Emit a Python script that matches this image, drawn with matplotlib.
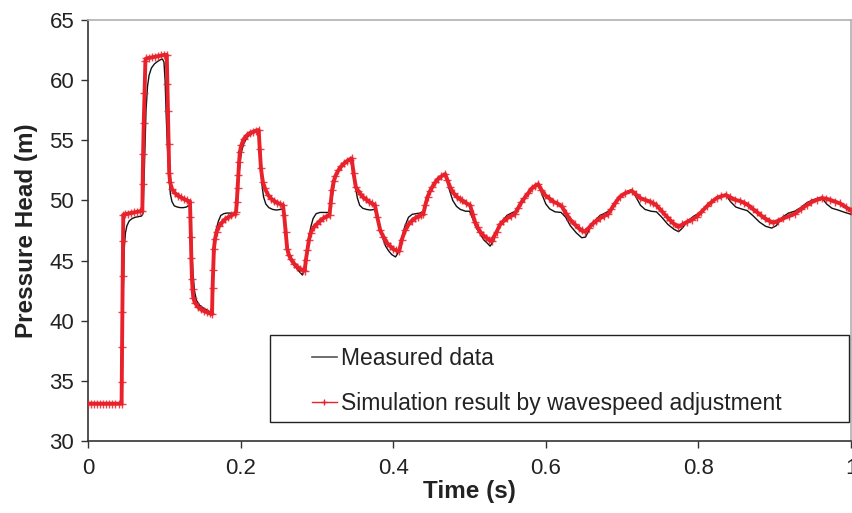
import matplotlib
matplotlib.use("Agg")
import matplotlib.pyplot as plt
from matplotlib.lines import Line2D
from matplotlib.patches import Rectangle

# Measured pressure head at the valve (m) against time (s)
t_meas = [
    0.000, 0.020, 0.044, 0.0450, 0.0460, 0.0475, 0.0490, 0.0510, 0.0540, 0.0580,
    0.0620, 0.0660, 0.0700, 0.0720, 0.0740, 0.0760, 0.0780, 0.0800, 0.0830, 0.0870,
    0.0910, 0.0950, 0.0975, 0.0995, 0.1010, 0.1025, 0.1040, 0.1060, 0.1080, 0.1100,
    0.1130, 0.1170, 0.1210, 0.1250, 0.1290, 0.1310, 0.1330, 0.1345, 0.1360, 0.1375,
    0.1395, 0.1420, 0.1460, 0.1500, 0.1540, 0.1580, 0.1610, 0.1630, 0.1645, 0.1660,
    0.1680, 0.1710, 0.1740, 0.1780, 0.1820, 0.1860, 0.1900, 0.1930, 0.1950, 0.1970,
    0.1990, 0.2010, 0.2040, 0.2080, 0.2120, 0.2160, 0.2200, 0.2230, 0.2245, 0.2260,
    0.2280, 0.2300, 0.2330, 0.2370, 0.2420, 0.2470, 0.2520, 0.2550, 0.2570, 0.2590,
    0.2620, 0.2660, 0.2700, 0.2740, 0.2780, 0.2810, 0.2830, 0.2860, 0.2890, 0.2920,
    0.2950, 0.2990, 0.3040, 0.3100, 0.3150, 0.3180, 0.3200, 0.3230, 0.3270, 0.3310,
    0.3360, 0.3410, 0.3450, 0.3475, 0.3500, 0.3530, 0.3560, 0.3600, 0.3650, 0.3700,
    0.3750, 0.3780, 0.3820, 0.3860, 0.3900, 0.3940, 0.3980, 0.4030, 0.4060, 0.4100,
    0.4150, 0.4200, 0.4250, 0.4300, 0.4350, 0.4400, 0.4450, 0.4500, 0.4550, 0.4600,
    0.4660, 0.4690, 0.4730, 0.4780, 0.4830, 0.4880, 0.4950, 0.5000, 0.5040, 0.5090,
    0.5140, 0.5190, 0.5240, 0.5270, 0.5310, 0.5370, 0.5430, 0.5490, 0.5550, 0.5600,
    0.5650, 0.5720, 0.5790, 0.5860, 0.5900, 0.5950, 0.6000, 0.6050, 0.6120, 0.6200,
    0.6260, 0.6320, 0.6400, 0.6470, 0.6520, 0.6570, 0.6640, 0.6710, 0.6780, 0.6840,
    0.6920, 0.7000, 0.7080, 0.7125, 0.7180, 0.7240, 0.7300, 0.7380, 0.7450, 0.7520,
    0.7600, 0.7680, 0.7740, 0.7790, 0.7860, 0.7940, 0.8010, 0.8080, 0.8160, 0.8240,
    0.8310, 0.8360, 0.8420, 0.8490, 0.8560, 0.8640, 0.8720, 0.8800, 0.8880, 0.8960,
    0.9020, 0.9100, 0.9180, 0.9260, 0.9340, 0.9420, 0.9500, 0.9580, 0.9620, 0.9680,
    0.9750, 0.9830, 0.9920, 1.0000,
]
p_meas = [
    33.1, 33.1, 33.1, 36.0, 42.0, 46.0, 47.3, 47.9, 48.3, 48.5,
    48.6, 48.65, 48.7, 48.9, 53.0, 57.5, 59.5, 60.4, 61.0, 61.35,
    61.55, 61.7, 61.75, 61.5, 60.0, 57.0, 54.5, 52.0, 50.5, 49.9,
    49.55, 49.45, 49.4, 49.4, 49.45, 49.55, 49.5, 48.5, 46.0, 44.0,
    42.5, 41.7, 41.3, 41.1, 40.95, 40.8, 40.7, 41.5, 44.0, 46.3,
    47.6, 48.3, 48.75, 48.9, 48.95, 48.95, 48.9, 49.0, 49.8, 51.5,
    53.0, 54.0, 54.7, 55.2, 55.45, 55.6, 55.7, 55.8, 55.0, 53.0,
    51.3, 50.3, 49.7, 49.4, 49.25, 49.2, 49.25, 49.3, 48.6, 47.3,
    46.0, 45.1, 44.6, 44.3, 44.0, 43.8, 44.2, 45.5, 46.8, 47.8,
    48.5, 48.9, 49.0, 49.0, 49.0, 49.4, 50.3, 51.5, 52.4, 52.8,
    53.15, 53.35, 53.5, 52.8, 51.3, 50.2, 49.6, 49.35, 49.25, 49.2,
    49.25, 48.9, 47.8, 46.9, 46.2, 45.8, 45.5, 45.3, 45.6, 46.6,
    47.8, 48.6, 48.85, 48.9, 48.95, 49.1, 50.2, 51.0, 51.5, 51.85,
    52.15, 52.1, 51.0, 50.0, 49.5, 49.25, 49.1, 49.1, 48.5, 47.7,
    47.2, 46.7, 46.4, 46.2, 46.6, 47.6, 48.3, 48.75, 48.95, 49.1,
    49.6, 50.3, 50.9, 51.3, 51.4, 50.5, 49.7, 49.3, 49.05, 49.0,
    48.6, 47.9, 47.3, 46.9, 46.95, 47.6, 48.3, 48.75, 48.95, 49.2,
    49.9, 50.45, 50.8, 50.85, 50.3, 49.6, 49.25, 49.1, 49.05, 48.6,
    48.0, 47.6, 47.4, 47.7, 48.3, 48.7, 48.95, 49.3, 49.8, 50.2,
    50.45, 50.45, 49.9, 49.45, 49.3, 49.15, 48.7, 48.2, 47.85, 47.7,
    47.9, 48.6, 48.95, 49.1, 49.4, 49.8, 50.05, 50.2, 50.2, 49.7,
    49.35, 49.2, 49.0, 48.85,
]

# Simulated pressure head with adjusted wave speed
t_sim = [
    0.000, 0.004, 0.008, 0.012, 0.016, 0.020, 0.024, 0.028, 0.032, 0.036,
    0.040, 0.044, 0.0442, 0.0446, 0.0450, 0.0454, 0.0458, 0.0462,
    0.048, 0.052, 0.056, 0.060, 0.064, 0.068, 0.0712,
    0.0716, 0.0722, 0.0730, 0.0740, 0.0752, 0.0760,
    0.080, 0.084, 0.088, 0.092, 0.096, 0.100, 0.1032,
    0.1040, 0.1048, 0.1056, 0.1064, 0.1076, 0.1100, 0.1140, 0.1180, 0.1220, 0.1260,
    0.1300, 0.1336,
    0.1342, 0.1348, 0.1354, 0.1362, 0.1370, 0.1380, 0.1400, 0.1440, 0.1480, 0.1520,
    0.1560, 0.1600, 0.1625,
    0.1632, 0.1640, 0.1650, 0.1665, 0.1685, 0.1720, 0.1760, 0.1800, 0.1840, 0.1880,
    0.1920, 0.1940,
    0.1950, 0.1960, 0.1970, 0.1980, 0.1990, 0.2010, 0.2040, 0.2080, 0.2120, 0.2160,
    0.2200, 0.2237,
    0.2250, 0.2266, 0.2290, 0.2318, 0.2360, 0.2400, 0.2440, 0.2480, 0.2520, 0.2555,
    0.2570, 0.2590, 0.2610, 0.2630, 0.2660, 0.2700, 0.2740, 0.2780, 0.2820, 0.2840,
    0.2855, 0.2875, 0.2895, 0.2918, 0.2960, 0.3000, 0.3040, 0.3080, 0.3120, 0.3165,
    0.3180, 0.3200, 0.3220, 0.3240, 0.3280, 0.3320, 0.3360, 0.3400, 0.3430, 0.3456,
    0.3480, 0.3510, 0.3540, 0.3570, 0.3600, 0.3640, 0.3680, 0.3720, 0.3760,
    0.3790, 0.3830, 0.3870, 0.3920, 0.3960, 0.4000, 0.4040, 0.4080,
    0.4110, 0.4155, 0.4200, 0.4240, 0.4280, 0.4320, 0.4360, 0.4395,
    0.4420, 0.4450, 0.4480, 0.4510, 0.4550, 0.4590, 0.4630, 0.4680,
    0.4710, 0.4745, 0.4790, 0.4835, 0.4870, 0.4900, 0.4950, 0.5007,
    0.5040, 0.5072, 0.5105, 0.5140, 0.5180, 0.5220, 0.5260, 0.5290,
    0.5320, 0.5356, 0.5400, 0.5440, 0.5487, 0.5540, 0.5596,
    0.5640, 0.5680, 0.5720, 0.5770, 0.5815, 0.5860, 0.5900,
    0.5940, 0.5988, 0.6040, 0.6097, 0.6150, 0.6210, 0.6260, 0.6320, 0.6380, 0.6430,
    0.6470, 0.6510,
    0.6560, 0.6620, 0.6660, 0.6705, 0.6760, 0.6820, 0.6860, 0.6905, 0.6970, 0.7040,
    0.7125,
    0.7180, 0.7235, 0.7300, 0.7366, 0.7410, 0.7450, 0.7520, 0.7585, 0.7630, 0.7670,
    0.7737,
    0.7790, 0.7846, 0.7910, 0.7977, 0.8040, 0.8108, 0.8170, 0.8239, 0.8300, 0.8360,
    0.8420, 0.8480, 0.8545, 0.8600, 0.8654, 0.8710, 0.8763, 0.8820, 0.8872, 0.8930,
    0.8980,
    0.9040, 0.9110, 0.9190, 0.9264, 0.9340, 0.9417, 0.9480, 0.9550, 0.9616, 0.9670,
    0.9725, 0.9790, 0.9856, 0.9930, 1.0000,
]
p_sim = [
    33.1, 33.1, 33.1, 33.1, 33.1, 33.1, 33.1, 33.1, 33.1, 33.1,
    33.1, 33.1, 34.9, 37.8, 40.7, 43.7, 46.6, 48.8,
    48.85, 48.9, 48.95, 49.0, 49.05, 49.1, 49.15,
    51.4, 53.9, 56.4, 58.9, 61.6, 61.8,
    61.85, 61.9, 61.95, 62.0, 62.05, 62.1, 62.1,
    59.7, 57.4, 54.7, 52.3, 51.5, 50.95, 50.6, 50.4, 50.25, 50.1,
    50.0, 49.9,
    48.6, 47.0, 45.2, 43.5, 42.6, 41.9, 41.5, 41.15, 40.95, 40.8,
    40.7, 40.6, 40.55,
    42.7, 44.2, 46.0, 46.8, 47.4, 47.9, 48.2, 48.45, 48.6, 48.75,
    48.9, 49.05,
    49.9, 51.0, 52.1, 53.2, 54.05, 54.6, 55.1, 55.4, 55.6, 55.7,
    55.8, 55.85,
    54.3, 52.7, 51.55, 51.0, 50.45, 50.15, 49.95, 49.8, 49.7, 49.6,
    48.8, 47.4, 46.0, 45.5, 45.1, 44.75, 44.5, 44.3, 44.2, 44.15,
    45.05, 45.9, 46.7, 47.3, 47.8, 48.05, 48.3, 48.5, 48.65, 48.8,
    49.75, 50.9, 51.6, 52.0, 52.5, 52.85, 53.1, 53.3, 53.4, 53.5,
    52.25, 51.1, 50.8, 50.55, 50.3, 50.1, 49.9, 49.75, 49.6,
    48.65, 47.5, 47.0, 46.45, 46.2, 45.95, 45.85, 45.8,
    46.7, 47.5, 48.0, 48.3, 48.5, 48.65, 48.8, 48.9,
    49.6, 50.3, 50.75, 51.1, 51.5, 51.8, 52.0, 52.2,
    51.7, 51.1, 50.6, 50.3, 50.15, 50.0, 49.8, 49.6,
    48.9, 48.2, 47.75, 47.4, 47.1, 46.9, 46.7, 46.6,
    47.0, 47.4, 48.0, 48.25, 48.5, 48.7, 48.9,
    49.4, 49.85, 50.2, 50.6, 51.0, 51.2, 51.36,
    50.9, 50.45, 50.2, 49.9, 49.75, 49.5, 48.95, 48.4, 48.0, 47.7,
    47.5, 47.4,
    47.7, 48.1, 48.3, 48.5, 48.7, 48.9, 49.3, 49.75, 50.3, 50.6,
    50.8,
    50.5, 50.2, 50.05, 49.9, 49.75, 49.6, 49.1, 48.65, 48.35, 48.1,
    47.8,
    48.0, 48.2, 48.4, 48.65, 49.05, 49.5, 49.85, 50.2, 50.35, 50.45,
    50.25, 50.05, 49.95, 49.8, 49.6, 49.3, 49.05, 48.75, 48.5, 48.3,
    48.15,
    48.3, 48.5, 48.7, 48.9, 49.25, 49.6, 49.85, 50.05, 50.2, 50.15,
    50.05, 49.9, 49.75, 49.45, 49.15,
]

x_ticks = [0, 0.2, 0.4, 0.6, 0.8, 1]
x_tick_labels = ["0", "0.2", "0.4", "0.6", "0.8", "1"]
y_ticks = [30, 35, 40, 45, 50, 55, 60, 65]

series_labels = ["Measured data", "Simulation result by wavespeed adjustment"]

RED = "#e8212b"
plt.rcParams["font.family"] = ["Liberation Sans", "DejaVu Sans"]

fig = plt.figure(figsize=(8.53, 5.13), dpi=100)
ax = fig.add_axes([0.1032, 0.1404, 0.8945, 0.8206])

ax.plot(t_meas, p_meas, color="#111111", lw=1.0, zorder=3)
ax.plot(t_sim, p_sim, color=RED, lw=2.8, solid_joinstyle="round", zorder=4)
ax.plot(t_sim, p_sim, linestyle="none", color=RED, marker="+", markersize=5.5,
        markeredgewidth=1.0, alpha=0.85, zorder=4)

ax.set_xlim(0, 1)
ax.set_ylim(30, 65)
ax.set_xticks(x_ticks)
ax.set_xticklabels(x_tick_labels)
ax.set_yticks(y_ticks)

ax.tick_params(axis="both", direction="out", length=5, width=1.0,
               color="#333333", labelsize=16, labelcolor="#222222", pad=5)
ax.tick_params(axis="x", pad=7)

for side in ("left", "bottom"):
    ax.spines[side].set_color("#333333")
    ax.spines[side].set_linewidth(1.2)
for side in ("top", "right"):
    ax.spines[side].set_color("#b0b0b0")
    ax.spines[side].set_linewidth(1.2)

ax.set_xlabel("Time (s)", fontsize=17.5, fontweight="bold", color="#222222",
              labelpad=1)
ax.set_ylabel("Pressure Head (m)", fontsize=17.5, fontweight="bold",
              color="#222222", labelpad=8)

# Legend: wide framed box with left-aligned entries
ax.add_patch(Rectangle((0.2385, 0.0451), 0.7589, 0.2067, transform=ax.transAxes,
                       facecolor="white", edgecolor="#222222", lw=1.0, zorder=5))
handles = [
    Line2D([], [], color="#555555", lw=1.2),
    Line2D([], [], color=RED, lw=1.0, marker="+", markersize=5,
           markeredgewidth=1.0),
]
leg = ax.legend(handles, series_labels, loc="center left",
                bbox_to_anchor=(0.293, 0.143), frameon=False, fontsize=16.5,
                handlelength=1.1, handletextpad=0.2, labelspacing=0.95,
                numpoints=1, borderpad=0, borderaxespad=0)
leg.set_zorder(6)
for txt in leg.get_texts():
    txt.set_color("#222222")

fig.savefig("out.png", dpi=100)
